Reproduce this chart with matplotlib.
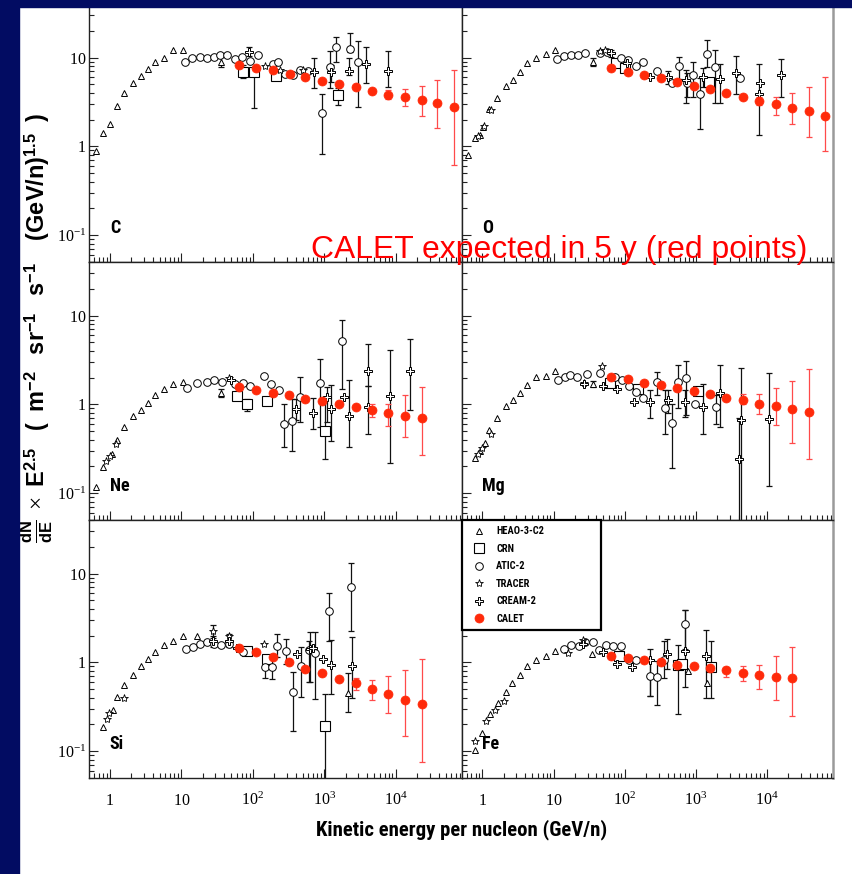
import matplotlib
matplotlib.use("Agg")
import matplotlib.pyplot as plt
import numpy as np
from matplotlib import font_manager
from matplotlib.font_manager import FontProperties
from matplotlib.lines import Line2D
from matplotlib.patches import Rectangle
from matplotlib.ticker import LogLocator, NullFormatter

# points: (E [GeV/n], flux) or (E, flux, err_low, err_high)

# --- Carbon ---
C_HEAO = [(0.63, 0.89), (0.8, 1.41), (1.0, 1.8), (1.27, 2.83), (1.59, 3.94), (2.12, 5.2),
          (2.7, 6.2), (3.4, 7.4), (4.3, 8.8), (5.7, 10.0), (7.6, 12.0), (10.6, 12.2),
          (36, 9.0, 7.8, 10.3)]
C_CRN = [(74, 6.9, 5.9, 8.3), (105, 6.8, 2.7, 7.6), (210, 6.2), (1540, 3.8, 2.95, 4.5)]
C_ATIC = [(11.3, 9.0), (14, 9.8), (18, 10.1), (22.7, 9.8), (28.5, 10.1), (35, 10.7),
          (44, 10.7), (56, 9.6), (70, 10.1), (90, 9.2), (117, 10.7), (192, 8.5), (226, 8.8),
          (278, 6.5), (366, 6.4), (460, 7.2), (585, 7.1), (935, 2.4, 0.83, 3.93),
          (1200, 7.9, 4.5, 11.7), (1475, 13.0, 8.9, 16.9), (2330, 12.5, 11.4, 18.9),
          (3000, 9.0, 2.77, 15.5)]
C_TRACER = [(150, 8.1), (240, 7.3), (500, 7.2)]
C_CREAM = [(88, 11.5, 10.3, 13.0), (725, 6.8, 4.5, 9.8), (1230, 6.8, 5.3, 8.3),
           (2200, 7.1, 6.36, 10.0), (3800, 8.4, 5.1, 13.0), (7700, 7.0, 4.6, 11.9)]
C_CALET = [(65, 8.3), (112, 7.6), (192, 7.3), (330, 6.6), (545, 6.0), (935, 5.5),
           (1600, 5.0), (2780, 4.6), (4700, 4.2), (7700, 3.8, 3.4, 4.3),
           (13300, 3.6, 2.84, 4.4), (23000, 3.3, 2.2, 4.8), (38000, 3.06, 1.6, 5.6),
           (66000, 2.8, 0.62, 7.3)]

# --- Oxygen ---
O_HEAO = [(0.62, 0.8), (0.79, 1.25), (0.91, 1.33), (1.03, 1.67), (1.25, 2.6), (1.59, 3.5),
          (2.15, 4.77), (2.67, 5.6), (3.38, 6.9), (4.27, 8.6), (5.66, 9.8), (7.74, 10.9),
          (10.6, 12.2), (35.5, 9.0, 8.0, 10.0)]
O_CRN = [(75, 8.6), (100, 7.6), (1520, 5.3)]
O_ATIC = [(11, 9.6), (14, 10.3), (17.4, 10.7), (22, 10.7), (27.6, 11.2), (45.5, 11.2),
          (56, 11.4), (90, 9.8), (111, 9.4), (143, 8.1), (178, 8.8), (285, 7.0), (455, 5.2),
          (580, 8.0, 5.7, 10.1), (740, 5.1, 3.63, 6.67), (910, 6.4, 3.63, 9.0),
          (1150, 3.87, 1.55, 5.86), (1450, 10.9, 7.9, 15.8), (1860, 7.9, 3.1, 12.2),
          (4150, 5.9)]
O_TRACER = [(0.86, 1.32), (1.05, 1.7), (1.32, 2.55), (45, 11.8), (52, 12.0)]
O_CREAM = [(65, 11.2, 10.2, 12.3), (106, 8.6), (225, 6.1), (405, 6.0, 5.0, 7.1),
           (725, 5.6, 3.06, 7.25), (1250, 6.0, 4.7, 7.6), (2170, 5.7, 3.1, 8.4),
           (3700, 6.7, 3.93, 10.5), (7700, 3.9, 1.34, 8.4), (8100, 5.1),
           (16000, 6.4, 3.63, 9.6)]
O_CALET = [(65, 7.6), (112, 6.95), (187, 6.38), (320, 5.85), (545, 5.36), (930, 4.8),
           (1580, 4.4), (2680, 3.96), (4600, 3.63), (7800, 3.25, 2.95, 3.6),
           (13400, 2.98, 2.25, 3.63), (22800, 2.73, 1.79, 3.96), (39000, 2.5, 1.27, 4.6),
           (66000, 2.2, 0.89, 6.0)]

# --- Neon ---
Ne_HEAO = [(0.63, 0.117), (0.8, 0.196), (1.06, 0.273), (1.24, 0.394), (1.59, 0.55),
           (2.12, 0.745), (2.7, 0.86), (3.4, 1.03), (4.3, 1.28), (5.7, 1.5), (7.6, 1.7),
           (10.6, 1.78), (36, 1.33, 1.2, 1.5)]
Ne_CRN = [(61, 1.25), (83, 1.0, 0.85, 1.15), (158, 1.1), (1040, 0.5, 0.24, 1.11)]
Ne_ATIC = [(11.9, 1.53), (16.5, 1.73), (22.7, 1.8), (28.5, 1.86), (37, 1.8), (56, 1.7),
           (72, 1.73), (92, 1.63), (142, 2.08), (180, 1.68), (232, 1.46),
           (275, 0.6, 0.33, 1.02), (354, 0.65, 0.3, 1.16), (462, 1.2, 0.63, 2.04),
           (880, 1.73, 0.55, 3.2), (1800, 5.1, 1.5, 8.9)]
Ne_TRACER = [(0.88, 0.23), (1.0, 0.26), (1.22, 0.36), (47, 2.0)]
Ne_CREAM = [(50, 1.9), (400, 0.89, 0.66, 1.16), (700, 0.79, 0.53, 1.19),
            (1100, 1.22, 0.63, 1.57), (1250, 0.89, 0.39, 1.64), (1890, 1.2),
            (2200, 0.74, 0.33, 1.87), (4100, 2.4, 1.6, 4.8), (4100, 0.93, 0.47, 1.6),
            (8200, 1.25, 0.22, 4.1), (16000, 2.4, 0.86, 5.5)]
Ne_CALET = [(65, 1.55), (112, 1.47), (192, 1.34), (320, 1.26), (545, 1.16), (935, 1.09),
            (1600, 1.0), (2780, 0.93), (4600, 0.855, 0.72, 1.02), (7700, 0.8, 0.57, 1.02),
            (13300, 0.74, 0.43, 1.27), (23000, 0.7, 0.27, 1.55)]

# --- Magnesium ---
Mg_HEAO = [(0.79, 0.25), (0.93, 0.3), (1.09, 0.37), (1.25, 0.51), (1.59, 0.71),
           (2.15, 0.95), (2.67, 1.11), (3.38, 1.34), (4.27, 1.67), (5.66, 2.03),
           (7.74, 2.1), (10.6, 2.4), (35.5, 1.7, 1.55, 1.85)]
Mg_CRN = [(62, 1.73), (153, 1.5), (1060, 1.4)]
Mg_ATIC = [(11.4, 1.9), (14.5, 2.03), (17, 2.16), (21, 2.03), (29.6, 2.2), (45, 2.23),
           (72, 2.05), (93, 1.86), (115, 1.6), (146, 1.37), (178, 1.17),
           (280, 1.78, 1.27, 2.3), (365, 0.9, 0.47, 1.44), (460, 0.62, 0.19, 1.02),
           (570, 1.78, 0.91, 2.77), (720, 1.97, 0.75, 3.1), (960, 1.0),
           (1900, 0.93, 0.6, 1.27)]
Mg_TRACER = [(0.86, 0.28), (1.0, 0.32), (1.3, 0.47), (26.6, 1.75), (48, 2.7)]
Mg_CREAM = [(26.6, 1.7), (48.7, 1.63), (78, 1.5), (134, 1.05), (230, 1.05, 0.71, 1.44),
            (405, 1.11, 0.8, 1.45), (715, 1.05, 0.73, 1.47), (1250, 0.94, 0.46, 1.71),
            (2170, 1.34, 0.55, 2.77), (4370, 0.67, 0.01, 2.54), (4100, 0.24, 0.01, 0.7),
            (10600, 0.68, 0.12, 2.27)]
Mg_CALET = [(65, 2.04), (112, 1.92), (187, 1.74), (320, 1.64), (545, 1.51), (930, 1.42),
            (1580, 1.3), (2680, 1.19), (4600, 1.13, 1.0, 1.3), (7800, 1.02, 0.78, 1.3),
            (13400, 0.96, 0.59, 1.51), (22800, 0.88, 0.37, 1.84), (39000, 0.83, 0.24, 2.53)]

# --- Silicon ---
Si_HEAO = [(0.8, 0.187), (1.09, 0.29), (1.27, 0.41), (1.59, 0.55), (2.12, 0.73),
           (2.7, 0.9), (3.4, 1.1), (4.3, 1.32), (5.7, 1.57), (7.6, 1.76), (10.6, 2.0),
           (16.5, 2.0), (2150, 0.45, 0.28, 0.75)]
Si_CRN = [(83, 1.36), (158, 1.1), (1040, 0.19, 0.01, 0.44)]
Si_ATIC = [(11.5, 1.42), (14.5, 1.48), (18.1, 1.63), (22.7, 1.68), (28.5, 1.63),
           (36, 1.58), (46, 1.6), (73, 1.3), (146, 0.88, 0.67, 1.09), (184, 0.88, 0.65, 1.18),
           (220, 1.54, 1.14, 2.09), (290, 1.36, 0.97, 1.83), (370, 0.46, 0.17, 0.78),
           (470, 0.91, 0.41, 1.48), (610, 1.37, 0.6, 1.76), (735, 1.26, 0.39, 2.18),
           (1160, 3.8, 1.76, 6.0), (2340, 7.1, 2.28, 13.2)]
Si_TRACER = [(0.92, 0.23), (0.98, 0.27), (1.57, 0.4), (28, 2.28, 1.9, 2.6), (47, 2.0),
             (142, 1.6)]
Si_CREAM = [(28, 1.75, 1.5, 2.0), (47, 1.75, 1.5, 2.1), (60, 1.45), (410, 1.24),
            (630, 1.41, 0.6, 2.18), (700, 1.45), (950, 1.1), (1250, 0.93, 0.44, 1.8),
            (2470, 0.9, 0.4, 1.95)]
Si_CALET = [(65, 1.45), (112, 1.3), (192, 1.14), (320, 1.0), (545, 0.85), (935, 0.76),
            (1600, 0.65), (2780, 0.58, 0.49, 0.66), (4600, 0.5, 0.38, 0.63),
            (7700, 0.44, 0.27, 0.7), (13300, 0.38, 0.15, 0.82), (23000, 0.34, 0.076, 1.09)]

# --- Iron ---
Fe_HEAO = [(0.79, 0.104), (1.0, 0.16), (1.28, 0.26), (1.63, 0.35), (2.15, 0.46),
           (2.63, 0.59), (3.38, 0.73), (4.27, 0.91), (5.66, 1.06), (7.74, 1.18),
           (10.6, 1.35), (35, 1.23), (780, 0.8), (1440, 0.58)]
Fe_CRN = [(84, 1.17), (560, 0.93, 0.26, 1.55), (630, 0.96), (1650, 0.88, 0.4, 1.76)]
Fe_ATIC = [(14, 1.41), (17.4, 1.58), (22.9, 1.51), (27.6, 1.68), (35.5, 1.68), (44, 1.38),
           (55, 1.58), (69, 1.53), (88, 1.53), (115, 1.06), (143, 1.06),
           (225, 0.71, 0.42, 1.06), (285, 0.68, 0.33, 1.04), (355, 1.07, 0.66, 1.76),
           (710, 2.7, 1.41, 3.9)]
Fe_TRACER = [(0.79, 0.13), (1.13, 0.22), (1.5, 0.29), (2.0, 0.37), (15.8, 1.27), (26, 1.78)]
Fe_CREAM = [(26, 1.63), (48.7, 1.3), (78, 0.96), (128, 0.88), (225, 1.05, 0.42, 1.41),
            (395, 1.25, 0.84, 1.84), (710, 1.35, 0.53, 3.9), (1400, 1.18, 0.4, 2.3)]
Fe_CALET = [(65, 1.19), (112, 1.12), (187, 1.06), (320, 1.0), (545, 0.94), (930, 0.91),
            (1580, 0.86), (2680, 0.82, 0.69, 0.89), (4600, 0.75, 0.61, 0.91),
            (7800, 0.72, 0.5, 0.94), (13400, 0.69, 0.38, 1.19), (22800, 0.66, 0.25, 1.5)]

ELEMENTS = ["C", "O", "Ne", "Mg", "Si", "Fe"]
EXPERIMENTS = ["HEAO-3-C2", "CRN", "ATIC-2", "TRACER", "CREAM-2", "CALET"]
PANEL_DATA = {
    "C": [C_HEAO, C_CRN, C_ATIC, C_TRACER, C_CREAM, C_CALET],
    "O": [O_HEAO, O_CRN, O_ATIC, O_TRACER, O_CREAM, O_CALET],
    "Ne": [Ne_HEAO, Ne_CRN, Ne_ATIC, Ne_TRACER, Ne_CREAM, Ne_CALET],
    "Mg": [Mg_HEAO, Mg_CRN, Mg_ATIC, Mg_TRACER, Mg_CREAM, Mg_CALET],
    "Si": [Si_HEAO, Si_CRN, Si_ATIC, Si_TRACER, Si_CREAM, Si_CALET],
    "Fe": [Fe_HEAO, Fe_CRN, Fe_ATIC, Fe_TRACER, Fe_CREAM, Fe_CALET],
}

X_TICKS = [1, 10, 100, 1000, 10000]
X_LABELS = ["$1$", "$10$", "$10^{2}$", "$10^{3}$", "$10^{4}$"]
Y_TICKS = [0.1, 1, 10]
Y_LABELS = ["$10^{-1}$", "$1$", "$10$"]

NAVY = "#020c62"
RED = "#ff2a0a"
RED_ERR = "#ff4a4a"

plt.rcParams["font.family"] = ["Liberation Sans", "DejaVu Sans"]
plt.rcParams["mathtext.fontset"] = "custom"
plt.rcParams["mathtext.rm"] = "Liberation Serif"
plt.rcParams["mathtext.it"] = "Liberation Serif:italic"
plt.rcParams["mathtext.bf"] = "Liberation Sans:bold"


def condensed_bold():
    # look for a narrow / condensed bold sans face, else plain bold sans
    picks = []
    for f in font_manager.fontManager.ttflist:
        key = (f.name + " " + f.fname).lower()
        if "serif" in key or "mono" in key:
            continue
        narrow = "narrow" in key or "condensed" in key or str(f.stretch) in ("condensed", "semi-condensed")
        w = f.weight if isinstance(f.weight, int) else font_manager.weight_dict.get(f.weight, 400)
        if narrow and w >= 600 and "extra" not in key and "ultra" not in key:
            picks.append(f.fname)
    if picks:
        picks.sort(key=lambda p: (0 if "liberation" in p.lower() else 1 if "roboto" in p.lower() else 2, p))
        return lambda size: FontProperties(fname=picks[0], size=size)
    return lambda size: FontProperties(family="Liberation Sans", weight="bold", size=size)


NARROW_BOLD = condensed_bold()

STYLES = [
    dict(marker="^", ms=4.8, mfc="white", mec="black", mew=0.7),
    dict(marker="s", ms=6.5, mfc="white", mec="black", mew=0.8),
    dict(marker="o", ms=5.5, mfc="white", mec="black", mew=0.7),
    dict(marker="*", ms=6.0, mfc="white", mec="black", mew=0.6),
    dict(marker="P", ms=6.0, mfc="white", mec="black", mew=0.7),
    dict(marker="o", ms=6.5, mfc=RED, mec=RED, mew=0.5),
]


def draw_series(ax, points, style, is_calet):
    E = [p[0] for p in points]
    V = [p[1] for p in points]
    err = [p for p in points if len(p) > 2]
    ecol = RED_ERR if is_calet else "#111111"
    z = 4 if is_calet else 3
    if err:
        ax.errorbar([p[0] for p in err], [p[1] for p in err],
                    yerr=[[p[1] - p[2] for p in err], [p[3] - p[1] for p in err]],
                    fmt="none", ecolor=ecol, elinewidth=0.9, capsize=2, capthick=0.9, zorder=z)
    ax.plot(E, V, ls="none", zorder=z + 0.5, **style)


def fit_text(txt, target_px, vertical=False):
    # rescale font so the rendered text spans target_px
    r = fig.canvas.get_renderer()
    for _ in range(3):
        bb = txt.get_window_extent(r)
        span = bb.height if vertical else bb.width
        txt.set_fontsize(txt.get_fontsize() * target_px / span)


W, H = 852, 874
fig = plt.figure(figsize=(W / 100, H / 100), dpi=100, facecolor="white")

col_x = [89 / W, 461.7 / W]
col_w = [372.7 / W, 371 / W]
row_y = [1 - 262 / H, 1 - 520 / H, 1 - 778 / H]
row_h = 258 / H

axes = {}
for i, el in enumerate(ELEMENTS):
    r, c = divmod(i, 2)
    ax = fig.add_axes([col_x[c], row_y[r], col_w[c], row_h])
    axes[el] = ax
    ax.set_xscale("log")
    ax.set_yscale("log")
    ax.set_xlim(0.51, 84000)
    ax.set_ylim(0.05, 40)

    for k, pts in enumerate(PANEL_DATA[el]):
        draw_series(ax, pts, STYLES[k], k == 5)

    ax.set_xticks(X_TICKS, X_LABELS)
    ax.set_yticks(Y_TICKS, Y_LABELS)
    ax.xaxis.set_minor_locator(LogLocator(base=10, subs=np.arange(2, 10), numticks=30))
    ax.yaxis.set_minor_locator(LogLocator(base=10, subs=np.arange(2, 10), numticks=30))
    ax.xaxis.set_minor_formatter(NullFormatter())
    ax.yaxis.set_minor_formatter(NullFormatter())
    ax.tick_params(which="both", direction="in", top=False, right=False,
                   color="#222222", width=0.8)
    ax.tick_params(which="major", length=6.5)
    ax.tick_params(which="minor", length=3.5)
    ax.tick_params(axis="x", pad=19.5, labelsize=11.5, labelbottom=(r == 2))
    ax.tick_params(axis="y", pad=2, labelsize=11.5, labelleft=(c == 0))
    for lab in ax.get_xticklabels():
        lab.set_verticalalignment("baseline")
    for lab in ax.get_yticklabels():
        lab.set_verticalalignment("center_baseline")

    for sp in ax.spines.values():
        sp.set_linewidth(1.0)
        sp.set_color("#222222")
    if c == 1:
        ax.spines["right"].set_color("#9a9a9a")
        ax.spines["right"].set_linewidth(1.8)

    ax.text(0.056, 0.13, el, transform=ax.transAxes, fontproperties=NARROW_BOLD(13),
            va="center", ha="left", zorder=6)

# legend inside the Fe panel
handles = [Line2D([], [], ls="none", label=name, **STYLES[k]) for k, name in enumerate(EXPERIMENTS)]
leg = axes["Fe"].legend(handles=handles, loc="upper left", bbox_to_anchor=(0.0, 0.0, 0.375, 1.0),
                        mode="expand", borderaxespad=0, frameon=True, fancybox=False,
                        prop=NARROW_BOLD(7.5),
                        labelspacing=0.72, borderpad=0.6, handlelength=2.2, handletextpad=0.5)
leg.get_frame().set_edgecolor("black")
leg.get_frame().set_linewidth(1.6)
leg.get_frame().set_alpha(1)
leg.set_zorder(10)

ylab = fig.text(55 / W, 1 - 328 / H,
                r"$\frac{\mathbf{dN}}{\mathbf{dE}}\ \times\ \mathbf{E}^{\mathbf{2.5}}\quad\mathbf{(}\ \ "
                r"\mathbf{m}^{\mathbf{-2}}\quad\mathbf{sr}^{\mathbf{-1}}\quad\mathbf{s}^{\mathbf{-1}}"
                r"\quad\ \mathbf{(GeV/n)}^{\mathbf{1.5}}\ \ \mathbf{)}$",
                rotation=90, ha="right", va="center", fontsize=16)

xlab = fig.text(461.5 / W, 1 - 835 / H, "Kinetic energy per nucleon (GeV/n)", ha="center",
                va="baseline", fontproperties=NARROW_BOLD(16))

red = fig.text(310.7 / W, 1 - 258 / H, "CALET expected in 5 y (red points)", color="#ff0000",
               fontsize=23, family="Liberation Sans", ha="left", va="baseline", zorder=20)

fit_text(ylab, 430, vertical=True)
fit_text(xlab, 291)
fit_text(red, 497)

# slide background strips
fig.add_artist(Rectangle((0, 0), 19 / W, 1, transform=fig.transFigure,
                         color=NAVY, zorder=30))
fig.add_artist(Rectangle((0, 1 - 7 / H), 1, 7 / H, transform=fig.transFigure,
                         color=NAVY, zorder=30))

fig.savefig("out.png", dpi=100, facecolor="white")
